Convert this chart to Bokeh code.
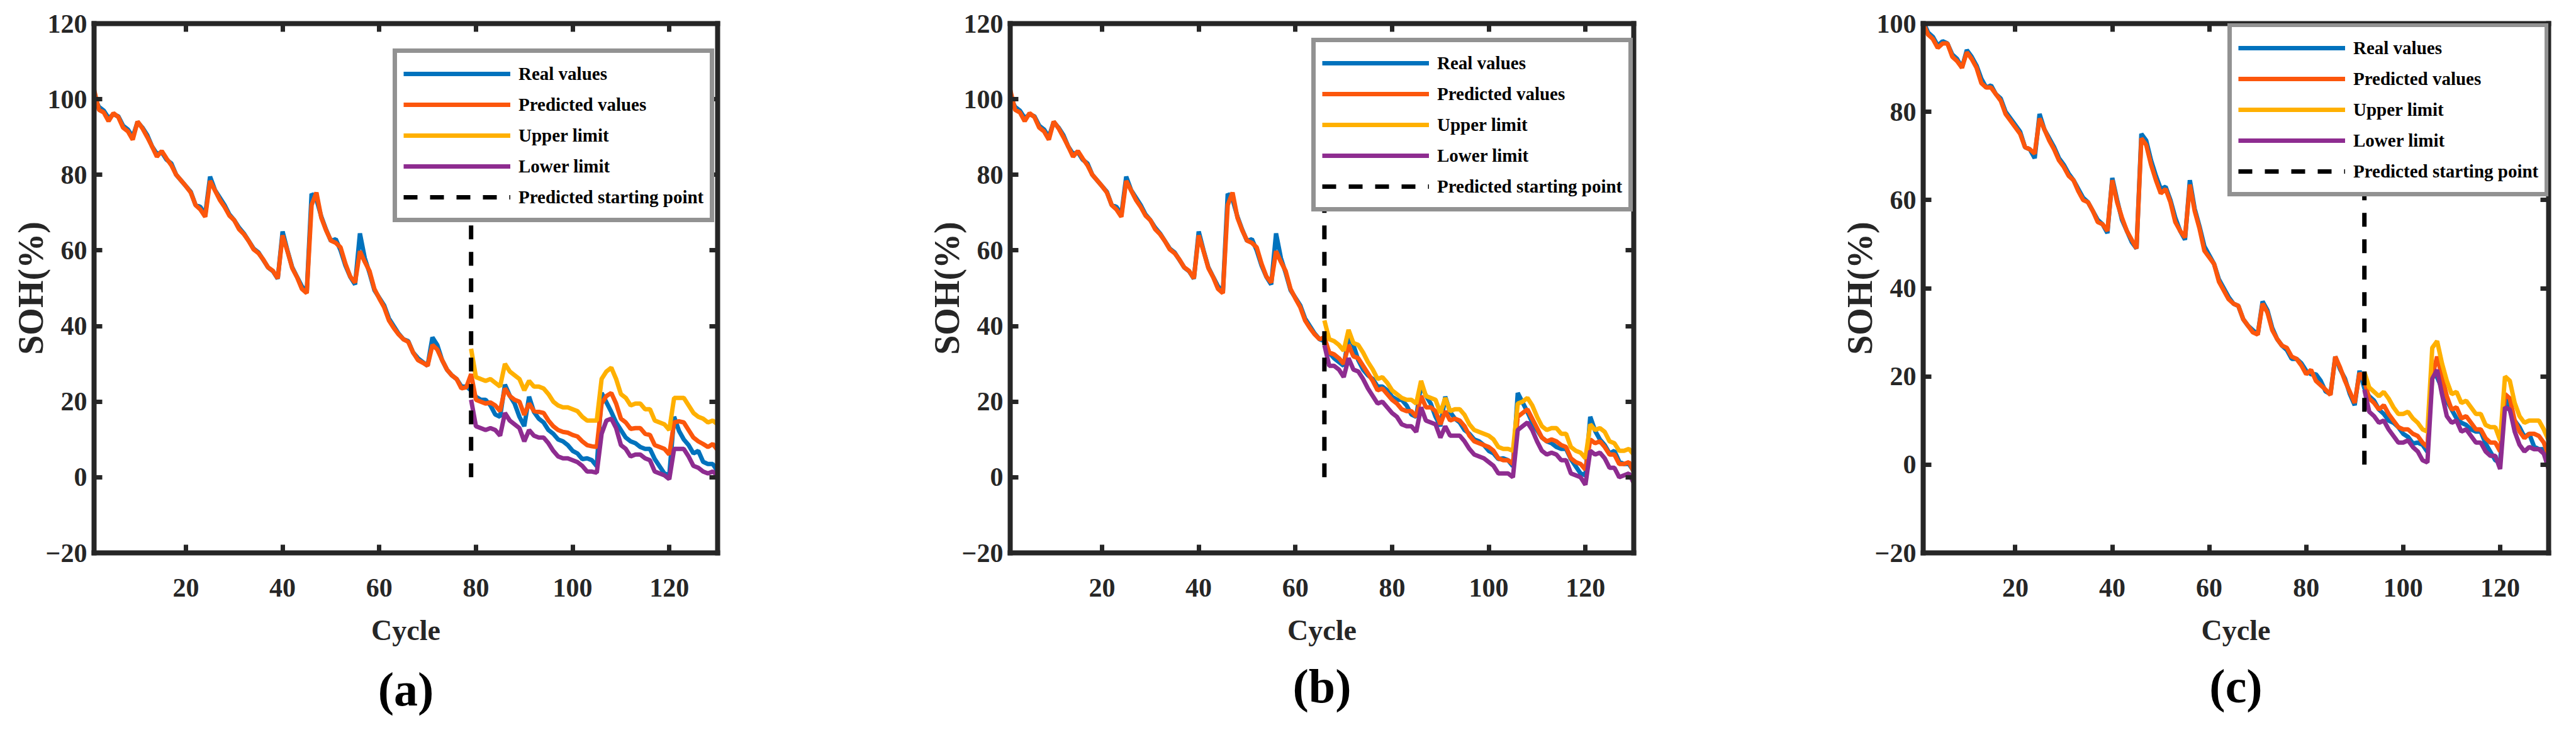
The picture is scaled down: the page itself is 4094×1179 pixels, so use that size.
from bokeh.plotting import figure
from bokeh.models import Range1d, FixedTicker, LinearAxis, Title
from bokeh.layouts import row
from bokeh.embed import file_html
from bokeh.resources import INLINE

# ---------------- data ----------------
cycles = list(range(1, 131))

real_soh = [
    100.5, 98.0, 97.0, 95.0, 96.0, 95.5, 93.0, 92.0, 90.0, 94.0,
    92.5, 90.5, 87.5, 85.5, 86.0, 84.0, 83.0, 80.0, 78.5, 77.0,
    75.5, 72.0, 71.5, 69.5, 79.5, 76.0, 74.0, 72.0, 69.5, 68.0,
    66.0, 64.5, 62.5, 60.5, 59.5, 57.5, 55.5, 54.5, 52.5, 65.0,
    60.0, 55.5, 53.0, 50.5, 49.0, 75.0, 73.5, 69.0, 65.5, 62.5,
    63.0, 60.0, 56.0, 53.0, 51.0, 64.5, 58.0, 54.0, 49.5, 47.5,
    45.5, 42.0, 40.0, 38.0, 36.5, 36.0, 33.0, 31.5, 30.5, 29.5,
    37.0, 35.0, 31.0, 28.5, 27.0, 26.0, 24.0, 24.0, 23.0, 21.3,
    20.5, 20.5, 19.0, 16.6, 16.0, 24.5, 21.6, 19.5, 16.0, 13.5,
    21.3, 17.3, 15.5, 14.5, 12.5, 11.5, 10.0, 9.5, 8.5, 7.0,
    6.3, 4.8, 5.0, 4.5, 2.9, 22.3, 19.8, 17.3, 14.5, 12.5,
    10.5, 9.5, 9.0, 8.0, 7.5, 7.5, 4.8, 2.9, 1.0, 0.5,
    16.0, 12.3, 10.0, 8.5, 6.3, 7.0, 4.1, 3.5, 3.5, 1.6,
]

# fitted (training) part of the predicted curve, panels (a) and (b)
fit_ab = [
    102.5, 97.2, 96.5, 94.2, 96.3, 95.3, 92.5, 91.5, 89.3, 94.1,
    92.3, 90.0, 87.5, 84.8, 86.3, 84.3, 82.5, 80.0, 78.5, 77.0,
    75.3, 72.0, 70.8, 68.9, 78.4, 75.9, 73.4, 71.5, 69.2, 68.0,
    65.6, 64.3, 62.5, 60.3, 59.3, 57.6, 55.5, 54.6, 52.6, 64.0,
    59.8, 55.3, 52.9, 49.8, 48.7, 72.0, 75.3, 68.7, 65.3, 62.6,
    62.0, 60.8, 56.5, 53.1, 51.5, 59.8, 57.0, 54.5, 49.8, 47.3,
    45.0, 41.5, 39.5, 37.8, 36.5, 35.8, 33.0, 31.0, 30.3, 29.5,
    35.0, 33.8, 31.0, 28.5, 27.0, 26.0, 23.5, 23.8, 27.3,
]

# fitted (training) part of the predicted curve, panel (c)
fit_c = [
    100.0, 97.5, 96.5, 94.5, 95.5, 95.5, 92.5, 91.5, 90.0, 93.5,
    92.0, 90.0, 86.5, 85.5, 85.5, 84.0, 82.5, 79.5, 78.0, 76.5,
    75.0, 72.0, 71.5, 70.5, 78.5, 76.0, 73.5, 71.5, 69.0, 67.5,
    65.5, 64.5, 62.0, 60.0, 59.5, 57.5, 55.0, 54.5, 53.0, 64.5,
    59.5, 56.0, 53.0, 51.0, 49.0, 74.0, 72.5, 68.0, 64.5, 61.5,
    62.5, 59.5, 55.0, 53.0, 51.5, 63.5, 57.5, 53.5, 48.5, 47.0,
    45.5, 41.5, 39.5, 37.5, 36.5, 36.0, 33.0, 31.5, 30.0, 29.5,
    36.5, 34.5, 30.5, 28.5, 27.0, 26.5, 24.5, 24.0, 22.5, 20.5,
    21.5, 19.0, 18.0, 17.0, 15.8, 24.5, 22.0, 19.0, 16.5, 14.0, 20.8,
]

# panel (a): prediction from cycle 79
start_a = 79
pred_a = [27.3, 20.5, 20.0, 19.5, 19.8, 19.0, 17.5, 23.5, 21.5, 20.5, 20.0, 16.5, 19.5,
          17.5, 17.3, 17.0, 15.0, 13.5, 12.5, 12.0, 11.8, 11.2, 10.8, 9.5, 8.5, 8.2,
          8.0, 19.5, 21.5, 22.3, 19.5, 15.5, 14.5, 12.8, 13.0, 13.0, 11.5, 11.2, 8.5,
          8.0, 7.5, 6.0, 14.5, 14.8, 14.5, 12.5, 10.5, 9.5, 8.8, 8.0, 8.8, 7.2]
upper_a = [34.0, 26.5, 26.0, 25.5, 26.0, 25.0, 24.0, 30.0, 28.0, 27.0, 26.0, 23.0, 25.5,
           24.0, 24.0, 23.5, 22.0, 20.0, 19.0, 18.5, 18.5, 18.0, 17.5, 16.0, 15.0, 15.0,
           15.0, 26.0, 28.0, 29.0, 26.0, 22.0, 21.0, 19.0, 19.5, 19.5, 18.0, 18.0, 15.0,
           14.5, 14.0, 12.5, 21.0, 21.0, 21.0, 19.0, 17.0, 16.0, 15.5, 14.5, 15.0, 14.0]
lower_a = [20.5, 13.5, 13.0, 12.5, 13.0, 12.5, 11.0, 17.0, 15.0, 14.0, 13.0, 9.5, 12.5,
           11.0, 10.5, 10.5, 9.0, 7.0, 5.5, 5.0, 5.0, 4.5, 4.0, 3.0, 1.5, 1.5,
           1.2, 11.5, 15.0, 15.5, 13.0, 8.5, 7.5, 5.5, 6.0, 6.0, 5.0, 4.5, 1.5,
           1.0, 0.5, -0.5, 7.5, 7.5, 7.5, 5.5, 3.0, 2.5, 1.5, 1.0, 1.5, 0.5]

# panel (b): prediction from cycle 66
start_b = 66
pred_b = [37.0, 33.0, 32.5, 31.5, 30.0, 35.0, 32.0, 31.5, 29.5, 27.5, 25.5, 23.0, 23.5,
          22.0, 20.5, 19.5, 18.0, 17.5, 17.5, 16.0, 21.5, 18.5, 18.5, 17.5, 14.0, 17.5,
          15.0, 15.5, 15.0, 13.5, 11.0, 9.5, 9.0, 8.5, 8.0, 7.0, 5.0, 4.5, 4.5,
          3.5, 16.0, 17.0, 18.0, 15.5, 13.0, 10.5, 9.5, 10.0, 9.5, 8.5, 8.0, 5.0,
          4.0, 3.5, 2.0, 10.0, 9.0, 9.5, 8.0, 6.0, 6.0, 3.5, 3.5, 4.0, 1.5]
upper_b = [41.5, 36.5, 36.0, 35.0, 33.5, 39.0, 35.5, 35.0, 33.0, 30.5, 28.5, 26.0, 26.5,
           25.0, 23.0, 22.0, 21.0, 20.5, 20.5, 19.5, 25.5, 21.5, 21.0, 20.5, 17.0, 21.0,
           17.5, 18.0, 18.0, 16.5, 14.0, 12.5, 12.0, 11.5, 11.0, 10.0, 8.0, 7.5, 7.5,
           7.0, 19.5, 20.0, 21.0, 19.0, 16.0, 13.5, 12.5, 13.0, 13.0, 11.5, 11.5, 8.0,
           7.0, 6.5, 5.0, 14.0, 12.5, 13.0, 12.0, 9.5, 9.0, 7.0, 7.0, 7.5, 6.0]
lower_b = [35.0, 29.5, 29.5, 28.5, 26.5, 31.5, 28.5, 28.0, 26.0, 23.5, 21.5, 19.5, 20.0,
           18.5, 17.0, 16.0, 14.0, 13.5, 13.5, 12.0, 18.5, 15.0, 14.5, 14.0, 10.5, 13.5,
           11.0, 11.0, 11.0, 9.5, 7.5, 6.0, 5.5, 5.0, 4.0, 3.0, 1.0, 1.0, 1.0,
           0.0, 12.5, 13.5, 14.5, 12.5, 9.5, 7.0, 6.0, 6.5, 6.0, 4.5, 4.5, 1.0,
           0.5, 0.0, -2.0, 7.0, 6.0, 6.5, 5.0, 2.5, 2.5, 0.0, 0.5, 1.0, -1.5]

# panel (c): prediction from cycle 92
start_c = 92
pred_c = [19.0, 15.0, 14.0, 12.5, 13.5, 11.5, 10.0, 8.5, 8.0, 8.0, 7.0, 6.5, 5.0,
          4.0, 20.0, 24.5, 20.0, 15.5, 12.5, 13.0, 10.5, 11.0, 9.5, 8.0, 8.0, 6.0,
          5.0, 5.0, 3.0, 16.0, 15.0, 10.0, 7.5, 6.0, 7.0, 7.0, 6.5, 5.0, 2.0]
upper_c = [21.0, 17.5, 16.5, 15.5, 16.5, 15.0, 13.0, 11.5, 11.5, 12.0, 10.5, 9.5, 8.0,
           7.5, 26.5, 28.0, 23.0, 19.0, 16.0, 16.5, 14.0, 14.5, 13.0, 11.5, 11.5, 9.0,
           8.5, 8.5, 5.5, 20.0, 19.0, 14.0, 11.0, 9.5, 10.0, 10.0, 10.0, 8.0, 5.5]
lower_c = [17.0, 12.0, 11.0, 9.5, 10.0, 8.0, 6.5, 5.0, 5.0, 5.5, 4.0, 3.0, 1.0,
           0.5, 19.5, 21.5, 16.0, 11.0, 9.5, 10.0, 7.5, 8.0, 6.5, 5.0, 5.0, 3.0,
           2.0, 2.0, -1.0, 13.0, 12.5, 7.5, 4.5, 3.0, 4.0, 3.5, 3.5, 2.5, -1.0]

# vertical marker at the start of prediction: from SOH 0 up to 80 (its top is under the legend)
marker_span = [0, 80]

x_ticks = [20, 40, 60, 80, 100, 120]
y_ticks_ab = [-20, 0, 20, 40, 60, 80, 100, 120]
y_ticks_c = [-20, 0, 20, 40, 60, 80, 100]

legend_names = ["Real values", "Predicted values", "Upper limit", "Lower limit",
                "Predicted starting point"]
x_title = "Cycle"
y_title = "SOH(%)"

# ---------------- style ----------------
BLUE = "#0072BD"
ORANGE = "#FC560C"
YELLOW = "#FFB000"
PURPLE = "#8E2C90"
AX = "#262626"
FONT = "Liberation Serif"
LW = 7


def style_axis(ax, ticks, show_labels):
    ax.ticker = FixedTicker(ticks=ticks)
    ax.axis_line_width = 8
    ax.axis_line_color = AX
    ax.axis_line_cap = "square"
    ax.major_tick_line_width = 7
    ax.major_tick_line_color = AX
    ax.major_tick_in = 13
    ax.major_tick_out = 0
    ax.minor_tick_line_color = None
    if show_labels:
        ax.major_label_text_font = FONT
        ax.major_label_text_font_style = "bold"
        ax.major_label_text_font_size = "42px"
        ax.major_label_text_color = AX
    else:
        # mirror axis: ticks only, labels not drawn
        ax.major_label_text_font_size = "2px"
        ax.major_label_text_color = None
        ax.major_label_standoff = 0


def make_panel(tag, start, fit, pred, upper, lower, ymax, yticks,
               width, bl, br, bt, bb, leg_xy, title_standoff):
    p = figure(width=width, height=1163,
               x_range=Range1d(1, 130), y_range=Range1d(-20, ymax),
               output_backend="svg", toolbar_location=None,
               min_border_left=bl, min_border_right=br,
               min_border_top=bt, min_border_bottom=bb,
               background_fill_color="white", border_fill_color="white")
    p.outline_line_color = None
    p.grid.visible = False

    style_axis(p.xaxis[0], x_ticks, True)
    style_axis(p.yaxis[0], yticks, True)
    p.xaxis[0].major_label_standoff = 41
    p.yaxis[0].major_label_standoff = 11
    p.xaxis[0].axis_label = x_title
    p.yaxis[0].axis_label = y_title
    for ax, size, so in ((p.xaxis[0], "46px", 25), (p.yaxis[0], "56px", -10)):
        ax.axis_label_text_font = FONT
        ax.axis_label_text_font_style = "bold"
        ax.axis_label_text_font_size = size
        ax.axis_label_text_color = AX
        ax.axis_label_standoff = so

    top = LinearAxis()
    style_axis(top, x_ticks, False)
    p.add_layout(top, "above")
    right = LinearAxis()
    style_axis(right, yticks, False)
    p.add_layout(right, "right")

    n_fit = start - 1
    pred_y = fit[:n_fit] + pred
    xs_pred = cycles[n_fit:]

    p.line(cycles, real_soh, color=BLUE, line_width=LW, legend_label=legend_names[0])
    p.line(cycles, pred_y, color=ORANGE, line_width=LW, legend_label=legend_names[1])
    p.line(xs_pred, upper, color=YELLOW, line_width=LW, legend_label=legend_names[2])
    p.line(xs_pred, lower, color=PURPLE, line_width=LW, legend_label=legend_names[3])
    p.line([start, start], marker_span, color="black", line_width=LW,
           line_dash="22 20", legend_label=legend_names[4])

    lg = p.legend[0]
    lg.location = leg_xy
    lg.label_text_font = FONT
    lg.label_text_font_style = "bold"
    lg.label_text_font_size = "29px"
    lg.label_text_color = "black"
    lg.glyph_width = 170
    lg.glyph_height = 46
    lg.label_height = 46
    lg.label_standoff = 13
    lg.spacing = 3
    lg.padding = 10
    lg.margin = 0
    lg.border_line_color = AX
    lg.border_line_width = 7
    lg.background_fill_color = "white"
    lg.background_fill_alpha = 1.0

    t = Title(text=tag, align="center", offset=20, text_font=FONT,
              text_font_size="76px", text_font_style="bold", text_color="black",
              standoff=title_standoff)
    p.add_layout(t, "below")
    return p


pa = make_panel("(a)", start_a, fit_ab, pred_a, upper_a, lower_a, 120, y_ticks_ab,
                1372, 149, 232, 37, 285, (475, 525), 43)
pb = make_panel("(b)", start_b, fit_ab, pred_b, upper_b, lower_b, 120, y_ticks_ab,
                1450, 233, 226, 36, 274, (479, 542), 32)
pc = make_panel("(c)", start_c, fit_c, pred_c, upper_c, lower_c, 100, y_ticks_c,
                1256, 234, 28, 36, 273, (484, 566), 32)

layout = row(pa, pb, pc)
open("out.html", "w").write(file_html(layout, INLINE))
